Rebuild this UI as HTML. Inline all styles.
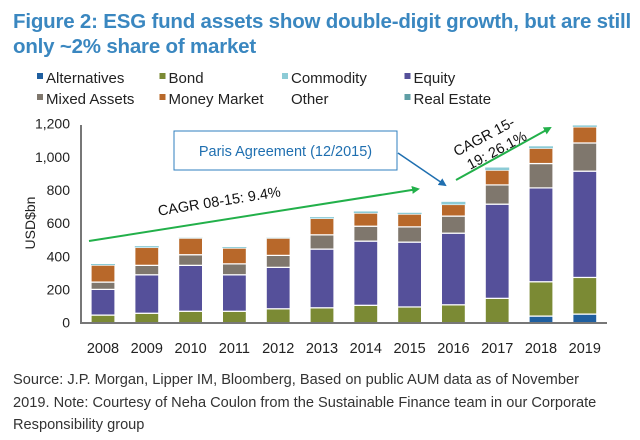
<!DOCTYPE html>
<html><head><meta charset="utf-8"><style>
body{margin:0;background:#fff;width:640px;height:440px;overflow:hidden;font-family:"Liberation Sans",sans-serif;position:relative}
.t{position:absolute;left:13px;top:9px;color:#3a87c0;font-weight:bold;font-size:20.5px;line-height:25px;letter-spacing:-0.2px}
.src{position:absolute;left:13px;top:369px;color:#333;font-size:14.6px;line-height:22.5px;width:608px}
</style></head><body>
<div class="t">Figure 2: ESG fund assets show double-digit growth, but are still<br>only ~2% share of market</div>
<svg id="c" width="640" height="370" style="position:absolute;left:0;top:0"></svg>
<div class="src">Source: J.P. Morgan, Lipper IM, Bloomberg, Based on public AUM data as of November<br>2019. Note: Courtesy of Neha Coulon from the Sustainable Finance team in our Corporate<br>Responsibility group</div>
<script>
const years=["2008","2009","2010","2011","2012","2013","2014","2015","2016","2017","2018","2019"];
const alternatives=[0,0,0,0,0,0,0,0,0,0,40,52];
const bond=[46,57,69,69,84,90,105,95,108,147,207,221];
const equity=[155,232,277,220,250,354,387,391,432,568,566,641];
const mixed=[44,57,64,66,72,86,90,92,103,116,147,170];
const money=[102,108,100,95,104,99,79,77,70,89,92,97];
const commodity=[7,8,2,6,2,8,10,8,16,16,12,9];
const yTicks=[0,200,400,600,800,1000,1200];
const seriesNames=["Alternatives","Bond","Commodity","Equity","Mixed Assets","Money Market","Other","Real Estate"];
const seriesColors=["#1f5fa0","#7b8a34","#8ccbd6","#55509a","#7f776d","#b8682a",null,"#5f9ea5"];
const NS="http://www.w3.org/2000/svg",svg=document.getElementById('c');
function el(t,a,p){const e=document.createElementNS(NS,t);for(const k in a)e.setAttribute(k,a[k]);(p||svg).appendChild(e);return e;}
const y0=322.7,ppu=0.1658;
const Y=v=>y0-v*ppu;
const X=i=>103+i*43.8;
seriesNames.forEach((n,i)=>{
const r=Math.floor(i/4),c=i%4,lx=37+c*122.5,ly=77+r*21;
if(seriesColors[i]){const m=el('rect',{x:lx,y:ly-4,width:6,height:6,fill:seriesColors[i]});

}
const t=el('text',{x:lx+9,y:ly+6,'font-size':15,fill:'#222'});t.textContent=n;


});
yTicks.forEach(v=>{const t=el('text',{x:70,y:Y(v)+5,'font-size':14,fill:'#222','text-anchor':'end'});t.textContent=v.toLocaleString('en-US');

});
const yt=el('text',{x:0,y:0,'font-size':14,fill:'#222','text-anchor':'middle',transform:'translate(35,223) rotate(-90)'});yt.textContent='USD$bn';


const stacks=[alternatives,bond,equity,mixed,money,commodity];
const cols=["#1f5fa0","#7b8a34","#55509a","#7f776d","#b8682a","#8ccbd6"];
years.forEach((yr,i)=>{let acc=0;
stacks.forEach((s,k)=>{const v=s[i];if(v>0){const b=el('rect',{x:X(i)-12,y:Y(acc+v),width:24,height:v*ppu,fill:cols[k],stroke:'#fff','stroke-width':k==5?0:1.2});

}acc+=v;});
const t=el('text',{x:X(i),y:353,'font-size':14.5,fill:'#222','text-anchor':'middle'});t.textContent=yr;

});
el('line',{x1:81,y1:125,x2:81,y2:323,stroke:'#777','stroke-width':2});
el('line',{x1:80,y1:323,x2:607,y2:323,stroke:'#777','stroke-width':2});
const defs=el('defs',{});
const mk=(id,c)=>{const m=el('marker',{id:id,markerWidth:8,markerHeight:8,refX:6,refY:4,orient:'auto',markerUnits:'userSpaceOnUse'},defs);el('path',{d:'M0,0 L8,4 L0,8z',fill:c},m);};
mk('ga','#22b04a');mk('ba','#1f6fb0');
el('line',{x1:89,y1:241,x2:418,y2:189,stroke:'#22b04a','stroke-width':2,'marker-end':'url(#ga)'});
el('line',{x1:456,y1:180,x2:550,y2:128,stroke:'#22b04a','stroke-width':2,'marker-end':'url(#ga)'});
let t=el('text',{x:0,y:0,'font-size':14.5,fill:'#111','text-anchor':'middle',transform:'translate(220,206) rotate(-9)'});t.textContent='CAGR 08-15: 9.4%';

const g=el('g',{transform:'translate(490,148) rotate(-28)'});
t=el('text',{x:0,y:-8,'font-size':14.5,fill:'#111','text-anchor':'middle'},g);t.textContent='CAGR 15-';
t=el('text',{x:5,y:10,'font-size':14.5,fill:'#111','text-anchor':'middle'},g);t.textContent='19: 26.1%';

const bx=el('rect',{x:174,y:131,width:223,height:39,fill:'#fff',stroke:'#2f7fbf','stroke-width':1});

t=el('text',{x:285.5,y:156,'font-size':14.5,fill:'#1f6fb0','text-anchor':'middle'});t.textContent='Paris Agreement (12/2015)';

el('line',{x1:398,y1:153,x2:445,y2:185,stroke:'#1f6fb0','stroke-width':1.5,'marker-end':'url(#ba)'});
</script>
</body></html>
